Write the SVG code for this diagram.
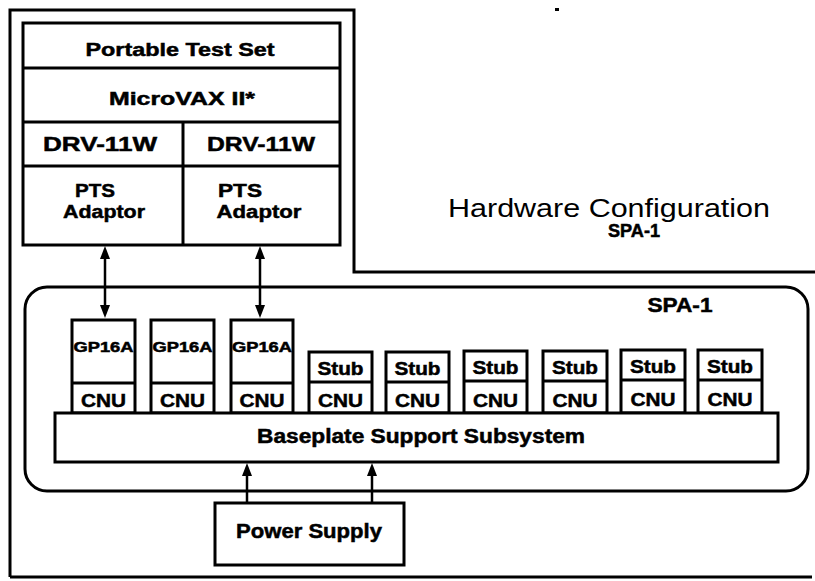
<svg xmlns="http://www.w3.org/2000/svg" width="815" height="581" viewBox="0 0 815 581">
<style>
.b{fill:#fff;stroke:#000;stroke-width:3}
.ln{fill:none;stroke:#000;stroke-width:3}
.t{font-family:"Liberation Sans",Arial,sans-serif;font-weight:bold;fill:#000;text-anchor:middle;stroke:#000;stroke-width:0.5}
.r{font-family:"Liberation Sans",Arial,sans-serif;font-weight:normal;fill:#000;text-anchor:middle}
.c{stroke:#000;stroke-width:2.5;fill:none}
</style>
<defs>
<marker id="ah" markerUnits="userSpaceOnUse" markerWidth="13" markerHeight="10" viewBox="0 0 13 10" refX="0" refY="5" orient="auto-start-reverse">
<path d="M0,0 L13,5 L0,10 Z" fill="#000"/>
</marker>
</defs>
<rect width="815" height="581" fill="#fff"/>
<g id="frame">
<path class="ln" d="M10,577 L10,10 L354,10 L354,272 L815,272"/>
<line class="ln" x1="10" y1="577" x2="812" y2="577"/>
<rect x="555" y="8" width="4" height="3" fill="#000"/>
</g>
<g id="title">
<text class="r" x="609" y="217" font-size="25" textLength="322" lengthAdjust="spacingAndGlyphs">Hardware Configuration</text>
<text class="t" x="634" y="237" font-size="18" textLength="52" lengthAdjust="spacingAndGlyphs">SPA-1</text>
</g>
<g id="pts">
<rect class="b" x="23" y="23" width="317" height="222"/>
<line class="ln" x1="23" y1="68" x2="340" y2="68"/>
<line class="ln" x1="23" y1="122" x2="340" y2="122"/>
<line class="ln" x1="23" y1="166" x2="340" y2="166"/>
<line class="ln" x1="183" y1="122" x2="183" y2="245"/>
<text class="t" x="180" y="56" font-size="19" textLength="189" lengthAdjust="spacingAndGlyphs">Portable Test Set</text>
<text class="t" x="182" y="105" font-size="18" textLength="146" lengthAdjust="spacingAndGlyphs">MicroVAX II*</text>
<text class="t" x="100" y="151" font-size="21" textLength="114" lengthAdjust="spacingAndGlyphs">DRV-11W</text>
<text class="t" x="261" y="151" font-size="21" textLength="108" lengthAdjust="spacingAndGlyphs">DRV-11W</text>
<text class="t" x="95" y="197" font-size="19" textLength="40" lengthAdjust="spacingAndGlyphs">PTS</text>
<text class="t" x="104" y="218" font-size="19" textLength="82" lengthAdjust="spacingAndGlyphs">Adaptor</text>
<text class="t" x="240" y="197" font-size="19" textLength="44" lengthAdjust="spacingAndGlyphs">PTS</text>
<text class="t" x="259" y="218" font-size="19" textLength="85" lengthAdjust="spacingAndGlyphs">Adaptor</text>
</g>
<g id="spa1">
<rect class="b" x="25" y="287" width="783" height="204" rx="22"/>
<text class="t" x="680" y="312" font-size="20" textLength="65" lengthAdjust="spacingAndGlyphs">SPA-1</text>
</g>
<g id="gp1">
<rect class="b" x="72" y="320" width="63" height="93"/>
<line class="ln" x1="72" y1="383" x2="135" y2="383"/>
<text class="t" x="103.5" y="352" font-size="14" textLength="60" lengthAdjust="spacingAndGlyphs">GP16A</text>
<text class="t" x="103.5" y="407" font-size="19" textLength="45" lengthAdjust="spacingAndGlyphs">CNU</text>
</g>
<g id="gp2">
<rect class="b" x="151" y="320" width="63" height="93"/>
<line class="ln" x1="151" y1="383" x2="214" y2="383"/>
<text class="t" x="182.5" y="352" font-size="14" textLength="60" lengthAdjust="spacingAndGlyphs">GP16A</text>
<text class="t" x="182.5" y="407" font-size="19" textLength="45" lengthAdjust="spacingAndGlyphs">CNU</text>
</g>
<g id="gp3">
<rect class="b" x="231" y="320" width="62" height="93"/>
<line class="ln" x1="231" y1="383" x2="293" y2="383"/>
<text class="t" x="262" y="352" font-size="14" textLength="60" lengthAdjust="spacingAndGlyphs">GP16A</text>
<text class="t" x="262" y="407" font-size="19" textLength="45" lengthAdjust="spacingAndGlyphs">CNU</text>
</g>
<g id="stub1">
<rect class="b" x="309" y="352" width="63" height="61"/>
<line class="ln" x1="309" y1="382" x2="372" y2="382"/>
<text class="t" x="340.5" y="375" font-size="18" textLength="46" lengthAdjust="spacingAndGlyphs">Stub</text>
<text class="t" x="340.5" y="407" font-size="19" textLength="45" lengthAdjust="spacingAndGlyphs">CNU</text>
</g>
<g id="stub2">
<rect class="b" x="386" y="352" width="63" height="61"/>
<line class="ln" x1="386" y1="382" x2="449" y2="382"/>
<text class="t" x="417.5" y="375" font-size="18" textLength="46" lengthAdjust="spacingAndGlyphs">Stub</text>
<text class="t" x="417.5" y="407" font-size="19" textLength="45" lengthAdjust="spacingAndGlyphs">CNU</text>
</g>
<g id="stub3">
<rect class="b" x="464" y="351" width="63" height="62"/>
<line class="ln" x1="464" y1="381" x2="527" y2="381"/>
<text class="t" x="495.5" y="374" font-size="18" textLength="46" lengthAdjust="spacingAndGlyphs">Stub</text>
<text class="t" x="495.5" y="407" font-size="19" textLength="45" lengthAdjust="spacingAndGlyphs">CNU</text>
</g>
<g id="stub4">
<rect class="b" x="543" y="351" width="64" height="62"/>
<line class="ln" x1="543" y1="381" x2="607" y2="381"/>
<text class="t" x="575" y="374" font-size="18" textLength="46" lengthAdjust="spacingAndGlyphs">Stub</text>
<text class="t" x="575" y="407" font-size="19" textLength="45" lengthAdjust="spacingAndGlyphs">CNU</text>
</g>
<g id="stub5">
<rect class="b" x="621" y="350" width="64" height="63"/>
<line class="ln" x1="621" y1="380" x2="685" y2="380"/>
<text class="t" x="653" y="373" font-size="18" textLength="46" lengthAdjust="spacingAndGlyphs">Stub</text>
<text class="t" x="653" y="406" font-size="19" textLength="45" lengthAdjust="spacingAndGlyphs">CNU</text>
</g>
<g id="stub6">
<rect class="b" x="698" y="350" width="64" height="63"/>
<line class="ln" x1="698" y1="380" x2="762" y2="380"/>
<text class="t" x="730" y="373" font-size="18" textLength="46" lengthAdjust="spacingAndGlyphs">Stub</text>
<text class="t" x="730" y="406" font-size="19" textLength="45" lengthAdjust="spacingAndGlyphs">CNU</text>
</g>
<g id="baseplate">
<rect class="b" x="55" y="413" width="723" height="49"/>
<text class="t" x="421" y="443" font-size="20" textLength="328" lengthAdjust="spacingAndGlyphs">Baseplate Support Subsystem</text>
</g>
<g id="power">
<rect class="b" x="215" y="503" width="189" height="62"/>
<text class="t" x="309" y="538" font-size="20" textLength="146" lengthAdjust="spacingAndGlyphs">Power Supply</text>
</g>
<g id="connectors">
<line class="c" x1="105" y1="259" x2="105" y2="305" marker-start="url(#ah)" marker-end="url(#ah)"/>
<line class="c" x1="260" y1="259" x2="260" y2="305" marker-start="url(#ah)" marker-end="url(#ah)"/>
<line class="c" x1="247" y1="503" x2="247" y2="476" marker-end="url(#ah)"/>
<line class="c" x1="372" y1="503" x2="372" y2="476" marker-end="url(#ah)"/>
</g>
</svg>
